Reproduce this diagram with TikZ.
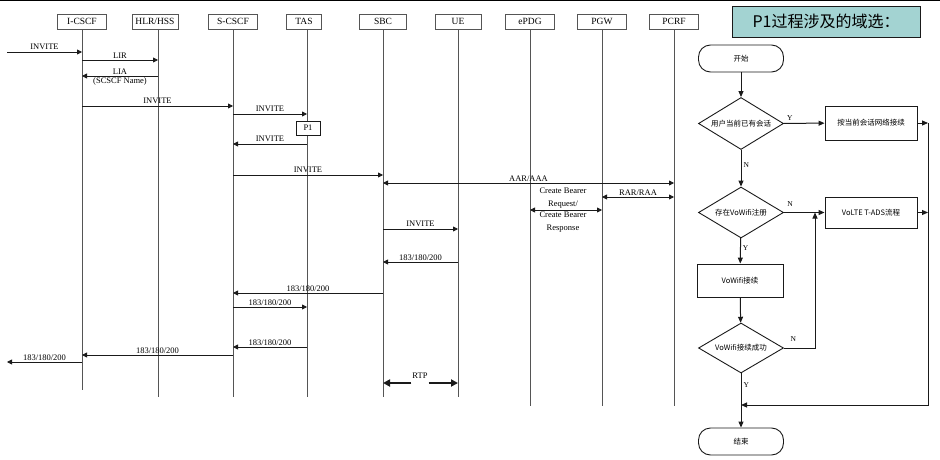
\documentclass[tikz,border=0pt]{standalone}
\usepackage{fontspec}
\setmainfont{Liberation Serif}
\newfontfamily\cjk{Noto Sans CJK SC}
\usepackage{tikz}
\usetikzlibrary{arrows.meta, shapes.geometric}
\definecolor{Ink}{HTML}{1A1A1A}
\definecolor{Life}{HTML}{555555}
\definecolor{TitleFill}{HTML}{A3D3D2}

\begin{document}
\begin{tikzpicture}[
  x=1pt, y=-1pt,
  head/.style={draw=Life, line width=0.8pt, minimum width=49pt, minimum height=15pt, inner sep=0pt, fill=white, font=\fontsize{9.5}{10}\selectfont},
  life/.style={draw=Life, line width=0.9pt},
  msg/.style={-{Triangle[length=5pt, width=5pt]}, draw=Ink, line width=0.8pt},
  both/.style={{Triangle[length=5pt, width=5pt]}-{Triangle[length=5pt, width=5pt]}, draw=Ink, line width=0.8pt},
  rtparrow/.style={-{Triangle[length=7pt, width=7pt]}, draw=Ink, line width=1.8pt},
  lbl/.style={above, inner sep=1.5pt, font=\fontsize{8.5}{9}\selectfont},
  term/.style={draw=Ink, line width=0.9pt, rounded corners=12pt, minimum width=85pt, minimum height=27pt, font=\cjk\fontsize{7.5}{8}\selectfont},
  decide/.style={diamond, shape aspect=1.6, draw=Ink, line width=0.9pt, minimum width=85pt, minimum height=52pt, inner sep=0pt, font=\cjk\fontsize{7.5}{8}\selectfont},
  proc/.style={draw=Ink, line width=0.9pt, minimum width=92pt, minimum height=33pt, font=\cjk\fontsize{7.5}{8}\selectfont},
  flow/.style={-{Triangle[length=6pt, width=5pt]}, draw=Ink, line width=1pt},
  yn/.style={inner sep=2pt, font=\fontsize{7.5}{8}\selectfont}
]
\useasboundingbox (0,0) rectangle (940,460);
\draw[line width=1.5pt, draw=black] (0,0.75) -- (940,0.75);

% entities
\node[head] (icscf) at (82,21.5) {I-CSCF};
\node[head, minimum width=46pt] (hss) at (155,21.5) {HLR/HSS};
\node[head] (scscf) at (233,21.5) {S-CSCF};
\node[head, minimum width=35pt] (tas) at (304,21.5) {TAS};
\node[head, minimum width=47pt] (sbc) at (383,21.5) {SBC};
\node[head, minimum width=46pt] (ue) at (458,21.5) {UE};
\node[head] (epdg) at (530,21.5) {ePDG};
\node[head] (pgw) at (602,21.5) {PGW};
\node[head] (pcrf) at (674,21.5) {PCRF};

\draw[life] (icscf.south) -- (icscf |- 0,390);
\draw[life] (158,29) -- (158,397);
\draw[life] (scscf.south) -- (scscf |- 0,397);
\draw[life] (307,29) -- (307,397);
\draw[life] (sbc.south) -- (sbc |- 0,397);
\draw[life] (ue.south) -- (ue |- 0,397);
\draw[life] (epdg.south) -- (epdg |- 0,406);
\draw[life] (pgw.south) -- (pgw |- 0,406);
\draw[life] (pcrf.south) -- (pcrf |- 0,406);

\coordinate (ext) at (7,0);
\coordinate (hssl) at (158,0);
\coordinate (tasl) at (307,0);

% messages
\draw[msg] (ext |- 0,52) -- node[lbl] {INVITE} (icscf |- 0,52);
\draw[msg] (icscf |- 0,60) -- node[lbl] {LIR} (hssl |- 0,60);
\draw[msg] (hssl |- 0,76) -- node[lbl] {LIA} node[lbl, below] {(SCSCF Name)} (icscf |- 0,76);
\draw[msg] (icscf |- 0,106) -- node[lbl] {INVITE} (scscf |- 0,106);
\draw[msg] (scscf |- 0,114) -- node[lbl] {INVITE} (tasl |- 0,114);
\node[draw=Ink, line width=0.8pt, fill=white, minimum width=24pt, minimum height=14pt, inner sep=0pt, font=\fontsize{8.5}{9}\selectfont] (p1) at (308,128) {P1};
\draw[msg] (tasl |- 0,144) -- node[lbl] {INVITE} (scscf |- 0,144);
\draw[msg] (scscf |- 0,175) -- node[lbl] {INVITE} (sbc |- 0,175);
\draw[both] (sbc |- 0,183) -- node[lbl] {AAR/AAA} (pcrf |- 0,183);
\draw[both] (pgw |- 0,197) -- node[lbl] {RAR/RAA} (pcrf |- 0,197);
\draw[both] (epdg |- 0,210) -- node[lbl, align=center, font=\fontsize{8.5}{13}\selectfont, xshift=-3pt] {Create Bearer\\Request/} node[lbl, below, align=center, font=\fontsize{8.5}{13}\selectfont, xshift=-3pt] {Create Bearer\\Response} (pgw |- 0,210);
\draw[msg] (sbc |- 0,229) -- node[lbl] {INVITE} (ue |- 0,229);
\draw[msg] (ue |- 0,262) -- node[lbl] {183/180/200} (sbc |- 0,262);
\draw[msg] (sbc |- 0,293) -- node[lbl] {183/180/200} (scscf |- 0,293);
\draw[msg] (scscf |- 0,307) -- node[lbl] {183/180/200} (tasl |- 0,307);
\draw[msg] (tasl |- 0,347) -- node[lbl] {183/180/200} (scscf |- 0,347);
\draw[msg] (scscf |- 0,355) -- node[lbl] {183/180/200} (icscf |- 0,355);
\draw[msg] (icscf |- 0,362) -- node[lbl] {183/180/200} (ext |- 0,362);
\node[inner sep=1pt, font=\fontsize{8.5}{9}\selectfont] (rtp) at (420,376) {RTP};
\draw[rtparrow] (rtp.west |- 0,383) -- (sbc |- 0,383);
\draw[rtparrow] (rtp.east |- 0,383) -- (ue |- 0,383);

% domain selection
\node[draw=Ink, line width=0.9pt, fill=TitleFill, minimum width=188pt, minimum height=31pt, font=\cjk\fontsize{16}{18}\selectfont] (title) at (826,21.5) {P1过程涉及的域选：};
\node[term] (start) at (741,58.5) {开始};
\node[decide] (d1) at (741,123.5) {用户当前已有会话};
\node[proc, minimum height=34pt] (b1) at (871,123) {按当前会话网络接续};
\node[decide, minimum height=51pt] (d2) at (741,212.5) {存在VoWifi注册};
\node[proc, minimum height=31pt] (b2) at (871,212.5) {VoLTE T-ADS流程};
\node[proc, minimum width=86pt] (b3) at (740,280.5) {VoWifi接续};
\node[decide, minimum height=50pt] (d3) at (741,348) {VoWifi接续成功};
\node[term] (end) at (741,441.5) {结束};

\coordinate (rtop) at (928,123);
\coordinate (rbot) at (928,405);
\coordinate (merge) at (741,405);
\coordinate (loop) at (815,348);

\draw[flow] (start) -- (d1);
\draw[flow] (d1) -- node[yn, above, pos=0.15] {Y} (b1);
\draw[flow] (b1) -- (rtop);
\draw[flow] (d1) -- node[yn, right, pos=0.4] {N} (d2);
\draw[flow] (d2) -- node[yn, above=4pt, pos=0.15] {N} (b2);
\draw[flow] (b2) -- (b2 -| rtop);
\draw[flow] (d2) -- node[yn, right, pos=0.4] {Y} (b3);
\draw[flow] (b3) -- (d3);
\draw[flow] (d3.east) -- node[yn, above=4pt, pos=0.3] {N} (loop) -- (loop |- b2);
\draw[flow] (rtop) -- (rbot) -- (merge);
\draw[flow] (d3) -- node[yn, right, pos=0.22] {Y} (end);
\end{tikzpicture}
\end{document}
